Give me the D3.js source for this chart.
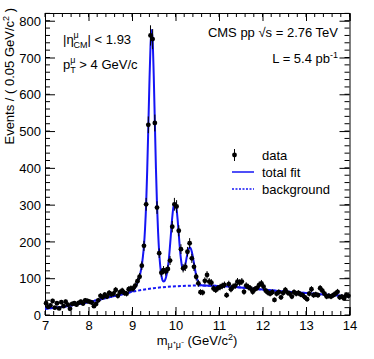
<!DOCTYPE html>
<html>
<head>
<meta charset="utf-8">
<script src="https://cdn.jsdelivr.net/npm/d3@7"></script>
<style>
  body { margin: 0; background: white; }
  text { font-family: "Liberation Sans", Arial, Helvetica, sans-serif; fill: black; }
</style>
</head>
<body>
<script>
// Dimuon invariant mass, events per 0.05 GeV bin, first bin centre 7.025
var binStart = 7.0;
var binWidth = 0.05;
var counts = [
  32, 22, 26, 38, 20, 32, 18, 35, 24, 36, 28, 17, 30, 32, 28, 33, 36, 31, 40, 38,
  36, 34, 24, 30, 40, 52, 48, 55, 50, 60, 56, 58, 68, 52, 62, 66, 60, 58, 70, 72,
  72, 80, 92, 104, 134, 188, 301, 517, 760, 750, 522, 292, 168, 115, 122, 118, 125, 148, 240, 301,
  295, 229, 179, 127, 131, 172, 195, 154, 131, 104, 86, 62, 61, 93, 109, 91,
  88, 72, 68, 73, 76, 79, 82, 54, 84, 70, 77, 80, 91, 88, 91, 63, 80, 76, 72, 63,
  70, 74, 82, 86, 77, 66, 61, 58, 62, 41, 58, 62, 48, 60, 68, 61, 58, 50, 62, 58,
  60, 56, 54, 48, 43, 58, 70, 54, 56, 54, 73, 66, 58, 50, 52, 50, 54, 58, 63, 48,
  50, 45, 54, 52
];

// Total fit curve (mass, events)
var fitMass = [7.0, 7.5, 8.0, 8.5, 9.0, 9.05, 9.1, 9.15, 9.2, 9.225, 9.25, 9.275, 9.3, 9.325,
  9.35, 9.375, 9.4, 9.425, 9.45, 9.475, 9.5, 9.525, 9.55, 9.575, 9.6, 9.625, 9.65, 9.675,
  9.7, 9.725, 9.75, 9.775, 9.8, 9.825, 9.85, 9.875, 9.9, 9.925, 9.95, 9.975, 10.0, 10.025,
  10.05, 10.075, 10.1, 10.125, 10.15, 10.175, 10.2, 10.225, 10.25, 10.275, 10.3, 10.325,
  10.35, 10.375, 10.4, 10.425, 10.45, 10.475, 10.5, 10.525, 10.55, 10.6, 10.65, 11.0,
  11.5, 12.0, 12.5, 13.0, 13.5, 14.0];
var fitEvents = [17, 24, 35, 49, 64, 71, 80, 95, 118, 135, 158, 188, 235, 300,
  395, 510, 630, 730, 775, 745, 650, 525, 400, 300, 225, 170, 132, 108,
  95, 91, 93, 100, 112, 130, 155, 190, 228, 265, 292, 303, 303, 288,
  258, 220, 182, 152, 132, 123, 125, 136, 152, 167, 178, 184,
  181, 172, 157, 140, 123, 108, 97, 90, 85, 81, 80, 79,
  75, 69, 64, 60, 55, 50];

// Background curve (mass, events)
var bkgMass = [7.0, 7.5, 8.0, 8.5, 9.0, 9.5, 10.0, 10.5, 11.0, 11.5, 12.0, 12.5, 13.0, 13.5, 14.0];
var bkgEvents = [17, 24, 35, 49, 63, 73, 78, 80, 79, 75, 69, 64, 60, 55, 50];

var legendLabels = ["data", "total fit", "background"];

var W = 374, H = 359;
var mLeft = 45, mRight = 349.5, mTop = 13, mBottom = 315;
var fitColor = "#1515f5";

var svg = d3.select("body").append("svg")
    .attr("width", W)
    .attr("height", H);

svg.append("rect").attr("width", W).attr("height", H).attr("fill", "white");

var x = d3.scaleLinear().domain([7, 14]).range([mLeft, mRight]);
var y = d3.scaleLinear().domain([0, 821]).range([mBottom, mTop]);

// Axes, ROOT style: ticks inside, frame on all sides
var fs = 13;
var xAxis = d3.axisBottom(x).tickValues(d3.range(7, 14.01, 1)).tickSize(-8).tickFormat(d3.format("d"));
var yAxis = d3.axisLeft(y).tickValues(d3.range(0, 801, 100)).tickSize(-10).tickFormat(d3.format("d"));

function minorTicks(g, values, scale, len, horizontal) {
  g.selectAll("line.minor").data(values).enter().append("line")
    .attr("x1", function(d) { return horizontal ? scale(d) : 0; })
    .attr("x2", function(d) { return horizontal ? scale(d) : len; })
    .attr("y1", function(d) { return horizontal ? 0 : scale(d); })
    .attr("y2", function(d) { return horizontal ? len : scale(d); })
    .attr("stroke", "black");
}

var xMinor = d3.range(7, 14.001, 0.2);
var yMinor = d3.range(0, 821, 20);

var gx = svg.append("g").attr("transform", "translate(0," + mBottom + ")").call(xAxis);
minorTicks(gx, xMinor, x, -4, true);
var gxTop = svg.append("g").attr("transform", "translate(0," + mTop + ")")
    .call(d3.axisTop(x).tickValues(d3.range(7, 14.01, 1)).tickSize(-8).tickFormat(""));
minorTicks(gxTop, xMinor, x, 4, true);

var gy = svg.append("g").attr("transform", "translate(" + mLeft + ",0)").call(yAxis);
minorTicks(gy, yMinor, y, 5, false);
var gyRight = svg.append("g").attr("transform", "translate(" + mRight + ",0)")
    .call(d3.axisRight(y).tickValues(d3.range(0, 801, 100)).tickSize(-10).tickFormat(""));
minorTicks(gyRight, yMinor, y, -5, false);

svg.selectAll(".domain").attr("stroke", "black");
svg.selectAll(".tick line").attr("stroke", "black");
gx.selectAll(".tick text").attr("font-size", fs).attr("dy", "0.95em").attr("y", 3)
  .style("font-family", "Liberation Sans, Arial, sans-serif");
gy.selectAll(".tick text").attr("font-size", fs).attr("x", -4).attr("dy", "0.36em")
  .style("font-family", "Liberation Sans, Arial, sans-serif");

// Rich text helper: parts = [{t, shift, size, back}]
function richText(parent, px, py, parts, anchor) {
  var txt = parent.append("text")
      .attr("x", px).attr("y", py)
      .attr("font-size", fs)
      .attr("text-anchor", anchor || "start");
  var cur = 0, prevLen = 0;
  parts.forEach(function(p) {
    var shift = p.shift || 0;
    var ts = txt.append("tspan")
        .text(p.t)
        .attr("font-size", p.size || fs)
        .attr("dy", shift - cur);
    if (p.back) ts.attr("dx", -prevLen);
    cur = shift;
    prevLen = ts.node().getComputedTextLength();
  });
  return txt;
}

// Background and total fit curves
var line = d3.line().curve(d3.curveMonotoneX);
svg.append("path")
    .attr("d", line(bkgMass.map(function(m, i) { return [x(m), y(bkgEvents[i])]; })))
    .attr("fill", "none").attr("stroke", fitColor).attr("stroke-width", 2)
    .attr("stroke-dasharray", "3,2");
svg.append("path")
    .attr("d", line(fitMass.map(function(m, i) { return [x(m), y(fitEvents[i])]; })))
    .attr("fill", "none").attr("stroke", fitColor).attr("stroke-width", 2);

// Data points with Poisson error bars
var data = counts.map(function(c, i) {
  return {m: binStart + binWidth * (i + 0.5), n: c};
});
var pts = svg.append("g");
pts.selectAll("line").data(data).enter().append("line")
    .attr("x1", function(d) { return x(d.m); })
    .attr("x2", function(d) { return x(d.m); })
    .attr("y1", function(d) { return y(d.n + Math.sqrt(d.n)); })
    .attr("y2", function(d) { return y(d.n - Math.sqrt(d.n)); })
    .attr("stroke", "black");
pts.selectAll("circle").data(data).enter().append("circle")
    .attr("cx", function(d) { return x(d.m); })
    .attr("cy", function(d) { return y(d.n); })
    .attr("r", 2.4)
    .attr("fill", "black");

// Legend
var lg = svg.append("g");
var legY = [155, 172, 189];
lg.append("line").attr("x1", 234.5).attr("x2", 234.5).attr("y1", legY[0] - 6).attr("y2", legY[0] + 6)
    .attr("stroke", "black");
lg.append("circle").attr("cx", 234.5).attr("cy", legY[0]).attr("r", 2.4).attr("fill", "black");
lg.append("line").attr("x1", 232).attr("x2", 254).attr("y1", legY[1]).attr("y2", legY[1])
    .attr("stroke", fitColor).attr("stroke-width", 1.5);
lg.append("line").attr("x1", 232).attr("x2", 254).attr("y1", legY[2]).attr("y2", legY[2])
    .attr("stroke", fitColor).attr("stroke-width", 1.5).attr("stroke-dasharray", "2,1.5");
lg.selectAll("text").data(legendLabels).enter().append("text")
    .attr("x", 262)
    .attr("y", function(d, i) { return legY[i] + 4.5; })
    .attr("font-size", fs)
    .text(function(d) { return d; });

// Annotations
richText(svg, 63, 44, [
  {t: "|\u03b7"},
  {t: "\u03bc", shift: -6, size: 9},
  {t: "CM", shift: 4, size: 9, back: true},
  {t: "| < 1.93", shift: 0}
]);
richText(svg, 63, 69, [
  {t: "p"},
  {t: "\u03bc", shift: -6, size: 9},
  {t: "T", shift: 4, size: 9, back: true},
  {t: " > 4 GeV/c", shift: 0}
]);
richText(svg, 338, 37, [{t: "CMS pp \u221as = 2.76 TeV"}], "end");
richText(svg, 338, 63, [
  {t: "L = 5.4 pb"},
  {t: "-1", shift: -5, size: 9}
], "end");

// Axis titles
richText(svg, 197, 345, [
  {t: "m"},
  {t: "\u03bc\u207a\u03bc\u207b", shift: 3, size: 9},
  {t: " (GeV/c", shift: 0},
  {t: "2", shift: -5, size: 9},
  {t: ")", shift: 0}
], "middle");

var yt = svg.append("g").attr("transform", "translate(14,8) rotate(-90)");
richText(yt, 0, 0, [
  {t: "Events / ( 0.05 GeV/c"},
  {t: "2", shift: -5, size: 9},
  {t: " )", shift: 0}
], "end");
</script>
</body>
</html>
